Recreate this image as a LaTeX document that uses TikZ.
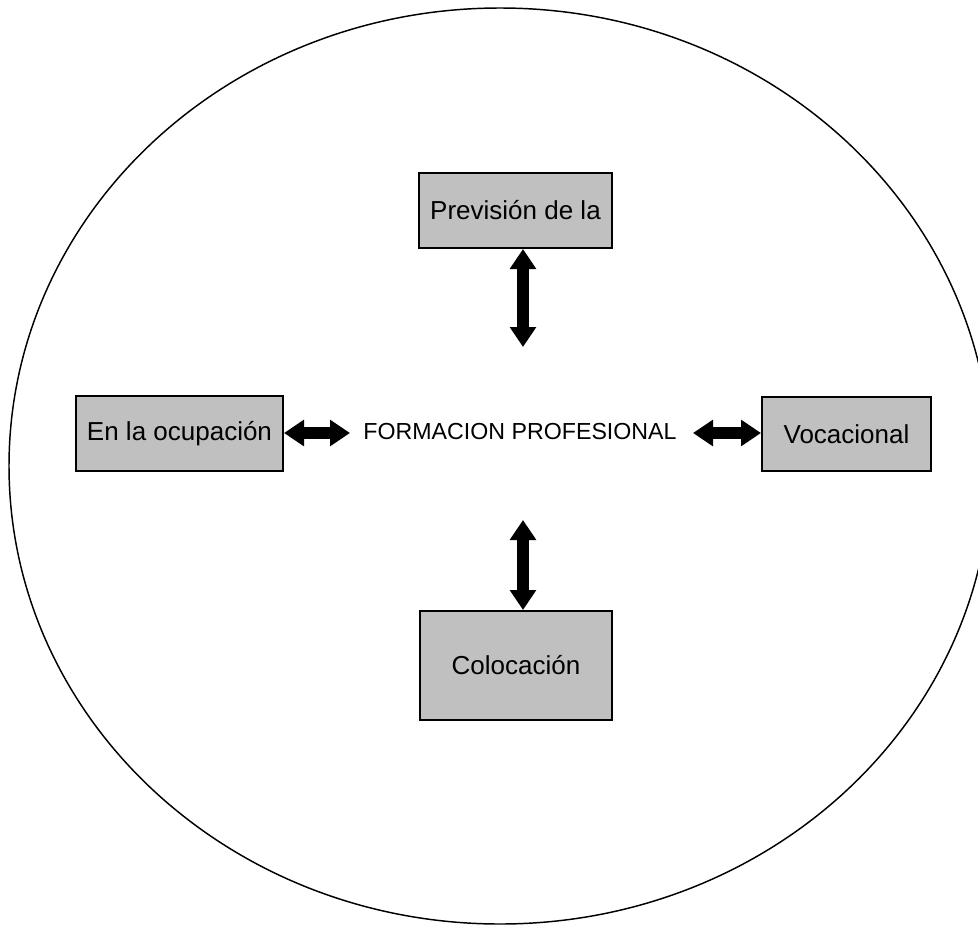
\documentclass[tikz,border=0pt]{standalone}
\usepackage{fontspec}
\setmainfont{Liberation Sans}
\usetikzlibrary{arrows.meta}

\tikzset{
  box/.style={draw=black, line width=1.5pt, fill={rgb,255:red,192;green,192;blue,192},
              inner sep=0pt, font=\fontsize{19.5}{23}\selectfont},
  link/.style={line width=9pt,
               {Triangle[width=19pt,length=15pt]}-{Triangle[width=19pt,length=15pt]}},
  title/.style={inner sep=0pt, font=\fontsize{17.4}{21}\selectfont}
}

\begin{document}
\begin{tikzpicture}[x=0.75pt, y=-0.75pt]
  \useasboundingbox (0,0) rectangle (978,925);
  \clip (0,0) rectangle (978,925);

  % outer ellipse
  \draw[line width=1.1pt] (500,466) ellipse [x radius=491, y radius=458];

  % centre label
  \node[title] (fp) at (520,432) {FORMACION PROFESIONAL};

  % surrounding boxes
  \node[box, minimum width=193*0.75pt, minimum height=75*0.75pt] (prev) at (515.5,210.5) {Previsión de la};
  \node[box, minimum width=207*0.75pt, minimum height=75*0.75pt] (ocup) at (179.5,433.5) {En la ocupación};
  \node[box, minimum width=169*0.75pt, minimum height=74*0.75pt] (voc) at (846.5,434) {Vocacional};
  \node[box, minimum width=192*0.75pt, minimum height=109*0.75pt] (col) at (516,665.5) {Colocación};

  % free ends of the double arrows near the centre label
  \coordinate (tN) at (523,347);
  \coordinate (tS) at (523,520);
  \coordinate (tW) at (350,433);
  \coordinate (tE) at (693,433);

  % double-headed arrows
  \draw[link] (prev.south -| tN) -- (tN);
  \draw[link] (tS) -- (col.north -| tS);
  \draw[link] (ocup.east |- tW) -- (tW);
  \draw[link] (tE) -- (voc.west |- tE);
\end{tikzpicture}
\end{document}
